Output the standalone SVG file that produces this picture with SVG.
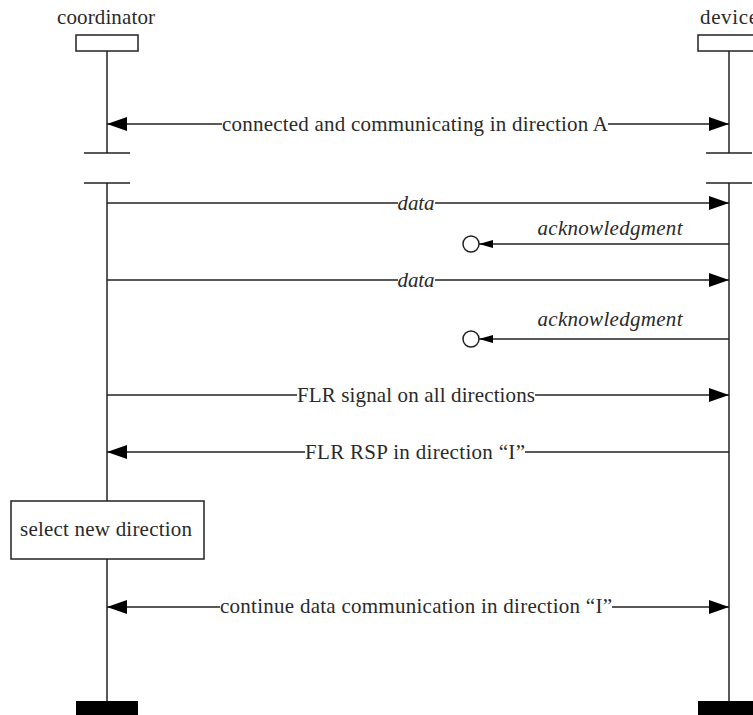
<svg xmlns="http://www.w3.org/2000/svg" width="753" height="715" viewBox="0 0 753 715">
  <style>
    .life { stroke: #222; stroke-width: 1.5; fill: none; }
    .hdr { fill: #fff; stroke: #222; stroke-width: 1.5; }
    .end { fill: #000; stroke: none; }
    .msg { stroke: #222; stroke-width: 1.5; fill: none; }
    .lbl { font-family: "Liberation Serif", "Times New Roman", serif; font-size: 21px; fill: #2a2a2a; text-anchor: middle; }
    .it { font-style: italic; }
    .box { fill: #fff; stroke: #222; stroke-width: 1.5; }
    .loss { fill: #fff; stroke: #222; stroke-width: 1.5; }
  </style>
  <defs>
    <marker id="head" markerUnits="userSpaceOnUse" markerWidth="20" markerHeight="14" refX="20" refY="7" orient="auto-start-reverse">
      <path d="M0,0 L20,7 L0,14 z" fill="#000"/>
    </marker>
    <marker id="small" markerUnits="userSpaceOnUse" markerWidth="14" markerHeight="8" refX="14" refY="4" orient="auto">
      <path d="M0,0 L14,4 L0,8 z" fill="#000"/>
    </marker>
  </defs>
  <rect width="753" height="715" fill="#fff"/>

  <!-- coordinator lifeline -->
  <g id="coordinator">
    <text class="lbl" x="106" y="24" textLength="98">coordinator</text>
    <rect class="hdr" x="76" y="35" width="62" height="16"/>
    <line class="life" x1="107" y1="51" x2="107" y2="153"/>
    <line class="life" x1="84" y1="153" x2="130" y2="153"/>
    <line class="life" x1="84" y1="183" x2="130" y2="183"/>
    <line class="life" x1="107" y1="183" x2="107" y2="501"/>
    <line class="life" x1="107" y1="559" x2="107" y2="701"/>
    <rect class="end" x="76" y="701" width="62" height="14"/>
  </g>

  <!-- device lifeline (header runs past the right edge) -->
  <g id="device">
    <text class="lbl" x="729" y="24" textLength="58">device</text>
    <rect class="hdr" x="698" y="35" width="62" height="16"/>
    <line class="life" x1="729" y1="51" x2="729" y2="153"/>
    <line class="life" x1="706" y1="153" x2="752" y2="153"/>
    <line class="life" x1="706" y1="183" x2="752" y2="183"/>
    <line class="life" x1="729" y1="183" x2="729" y2="701"/>
    <rect class="end" x="698" y="701" width="62" height="14"/>
  </g>

  <!-- local action on the coordinator -->
  <g id="select-new-direction">
    <rect class="box" x="11" y="501" width="193" height="58"/>
    <text class="lbl" x="106" y="536" textLength="172">select new direction</text>
  </g>

  <!-- messages -->
  <g id="connectors">
    <!-- connected (both ways) -->
    <line class="msg" x1="107" y1="124" x2="222" y2="124" marker-start="url(#head)"/>
    <line class="msg" x1="608" y1="124" x2="729" y2="124" marker-end="url(#head)"/>
    <text class="lbl" x="415" y="131" textLength="386">connected and communicating in direction A</text>

    <!-- data 1 -->
    <line class="msg" x1="107" y1="203" x2="398" y2="203"/>
    <line class="msg" x1="435" y1="203" x2="729" y2="203" marker-end="url(#head)"/>
    <text class="lbl it" x="416" y="210" textLength="37">data</text>

    <!-- acknowledgment 1 (lost) -->
    <line class="msg" x1="729" y1="244" x2="479" y2="244" marker-end="url(#small)"/>
    <circle class="loss" cx="471" cy="244" r="8"/>
    <text class="lbl it" x="610" y="235" textLength="145">acknowledgment</text>

    <!-- data 2 -->
    <line class="msg" x1="107" y1="280" x2="398" y2="280"/>
    <line class="msg" x1="435" y1="280" x2="729" y2="280" marker-end="url(#head)"/>
    <text class="lbl it" x="416" y="287" textLength="37">data</text>

    <!-- acknowledgment 2 (lost) -->
    <line class="msg" x1="729" y1="339" x2="479" y2="339" marker-end="url(#small)"/>
    <circle class="loss" cx="471" cy="339" r="8"/>
    <text class="lbl it" x="610" y="326" textLength="145">acknowledgment</text>

    <!-- FLR signal -->
    <line class="msg" x1="107" y1="395" x2="297" y2="395"/>
    <line class="msg" x1="535" y1="395" x2="729" y2="395" marker-end="url(#head)"/>
    <text class="lbl" x="416" y="402" textLength="238">FLR signal on all directions</text>

    <!-- FLR RSP -->
    <line class="msg" x1="305" y1="452" x2="107" y2="452" marker-end="url(#head)"/>
    <line class="msg" x1="525" y1="452" x2="729" y2="452"/>
    <text class="lbl" x="415" y="459" textLength="220">FLR RSP in direction “I”</text>

    <!-- continue (both ways) -->
    <line class="msg" x1="107" y1="607" x2="220" y2="607" marker-start="url(#head)"/>
    <line class="msg" x1="612" y1="607" x2="729" y2="607" marker-end="url(#head)"/>
    <text class="lbl" x="416" y="613" textLength="392">continue data communication in direction “I”</text>
  </g>
</svg>
